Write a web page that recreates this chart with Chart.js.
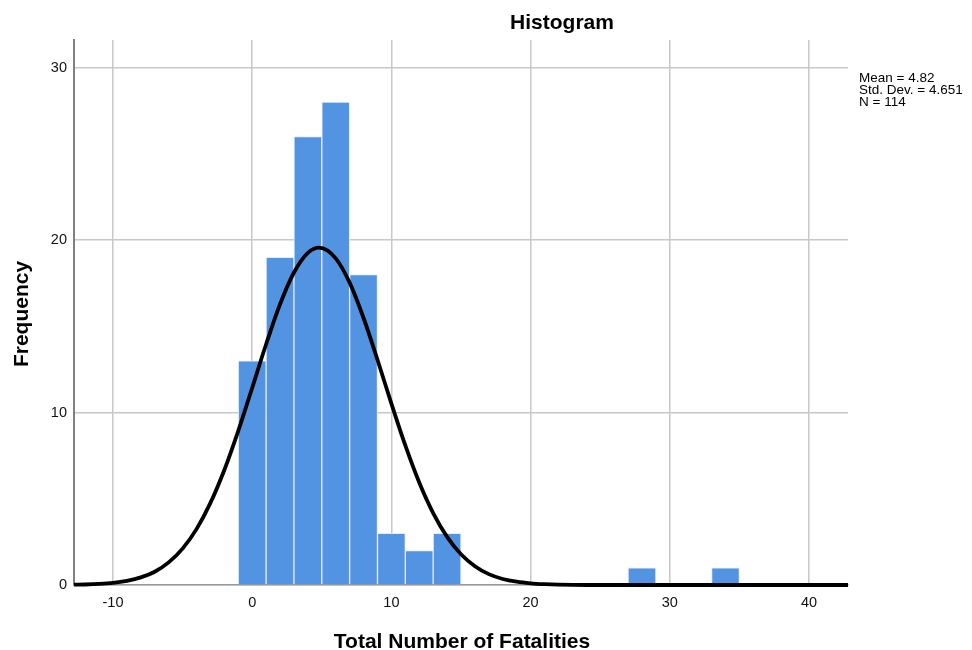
<!DOCTYPE html>
<html>
<head>
<meta charset="utf-8">
<script src="https://cdn.jsdelivr.net/npm/chart.js@4"></script>
<style>
  html, body { margin: 0; padding: 0; background: #fff; }
  #wrap { width: 972px; height: 650px; }
</style>
</head>
<body>
<div id="wrap"><canvas id="hist" width="972" height="650"></canvas></div>
<script>
// histogram bins (bin width 2, centres on x)
const binCenters = [0, 2, 4, 6, 8, 10, 12, 14, 28, 34];
const binCounts = [13, 19, 26, 28, 18, 3, 2, 3, 1, 1];

// normal curve
const curveX = [-12.8, -12, -11, -10, -9, -8, -7, -6, -5, -4, -3, -2, -1, 0, 1, 2, 3, 4, 4.82, 6, 7, 8, 9, 10, 11, 12, 13, 14, 15, 16, 17, 18, 19, 20, 21, 22, 24, 42.8];
const curveY = [0.02, 0.03, 0.06, 0.12, 0.24, 0.44, 0.77, 1.31, 2.11, 3.24, 4.76, 6.67, 8.94, 11.43, 13.96, 16.28, 18.12, 19.26, 19.56, 18.94, 17.53, 15.48, 13.06, 10.52, 8.09, 5.94, 4.17, 2.79, 1.78, 1.09, 0.63, 0.35, 0.19, 0.1, 0.05, 0.02, 0, 0];

const xTicks = [-10, 0, 10, 20, 30, 40];
const yTicks = [0, 10, 20, 30];

const statLines = ["Mean = 4.82", "Std. Dev. = 4.651", "N = 114"];

const FONT = "'Liberation Sans', Arial, sans-serif";

// titles and stats box, drawn as canvas text
const labelsPlugin = {
  id: "labels",
  afterDraw(chart) {
    const ctx = chart.ctx;
    ctx.save();
    ctx.fillStyle = "#000";
    ctx.textBaseline = "alphabetic";

    ctx.font = "bold 21px " + FONT;
    ctx.textAlign = "center";
    ctx.fillText("Histogram", 562, 29);
    ctx.fillText("Total Number of Fatalities", 462, 648);

    ctx.save();
    ctx.translate(28, 314);
    ctx.rotate(-Math.PI / 2);
    ctx.fillText("Frequency", 0, 0);
    ctx.restore();

    ctx.font = "13.5px " + FONT;
    ctx.textAlign = "left";
    statLines.forEach((s, i) => ctx.fillText(s, 859, 82 + i * 11.8));
    ctx.restore();
  }
};

new Chart(document.getElementById("hist"), {
  type: "bar",
  data: {
    datasets: [
      {
        type: "line",
        data: curveX.map((x, i) => ({ x: x, y: curveY[i] })),
        borderColor: "#000",
        borderWidth: 3.8,
        pointRadius: 0,
        cubicInterpolationMode: "monotone",
        clip: false,
        order: 1
      },
      {
        type: "bar",
        data: binCenters.map((x, i) => ({ x: x, y: binCounts[i] })),
        backgroundColor: "#5294e2",
        borderColor: "rgba(225,236,252,0.95)",
        borderWidth: 1,
        borderSkipped: "bottom",
        barPercentage: 1,
        categoryPercentage: 1,
        order: 2
      }
    ]
  },
  options: {
    responsive: false,
    animation: false,
    layout: { padding: { left: 0, right: 124, top: 40, bottom: 0 } },
    plugins: { legend: { display: false }, tooltip: { enabled: false } },
    scales: {
      x: {
        type: "linear",
        offset: false,
        min: -12.8,
        max: 42.8,
        afterBuildTicks: (s) => { s.ticks = xTicks.map((v) => ({ value: v })); },
        afterFit: (s) => { s.height = 65; },
        grid: { color: "#c8c8c8", lineWidth: 1.5, drawTicks: false, offset: false },
        border: { color: "#999", width: 1.5 },
        ticks: { color: "#111", font: { family: FONT, size: 14.5 }, padding: 9 }
      },
      y: {
        min: 0,
        max: 31.6,
        afterBuildTicks: (s) => { s.ticks = yTicks.map((v) => ({ value: v })); },
        afterFit: (s) => { s.width = 74; },
        grid: { color: "#c8c8c8", lineWidth: 1.5, drawTicks: false },
        border: { color: "#808080", width: 2 },
        ticks: { color: "#111", font: { family: FONT, size: 14.5 }, padding: 7 }
      }
    }
  },
  plugins: [labelsPlugin]
});
</script>
</body>
</html>
